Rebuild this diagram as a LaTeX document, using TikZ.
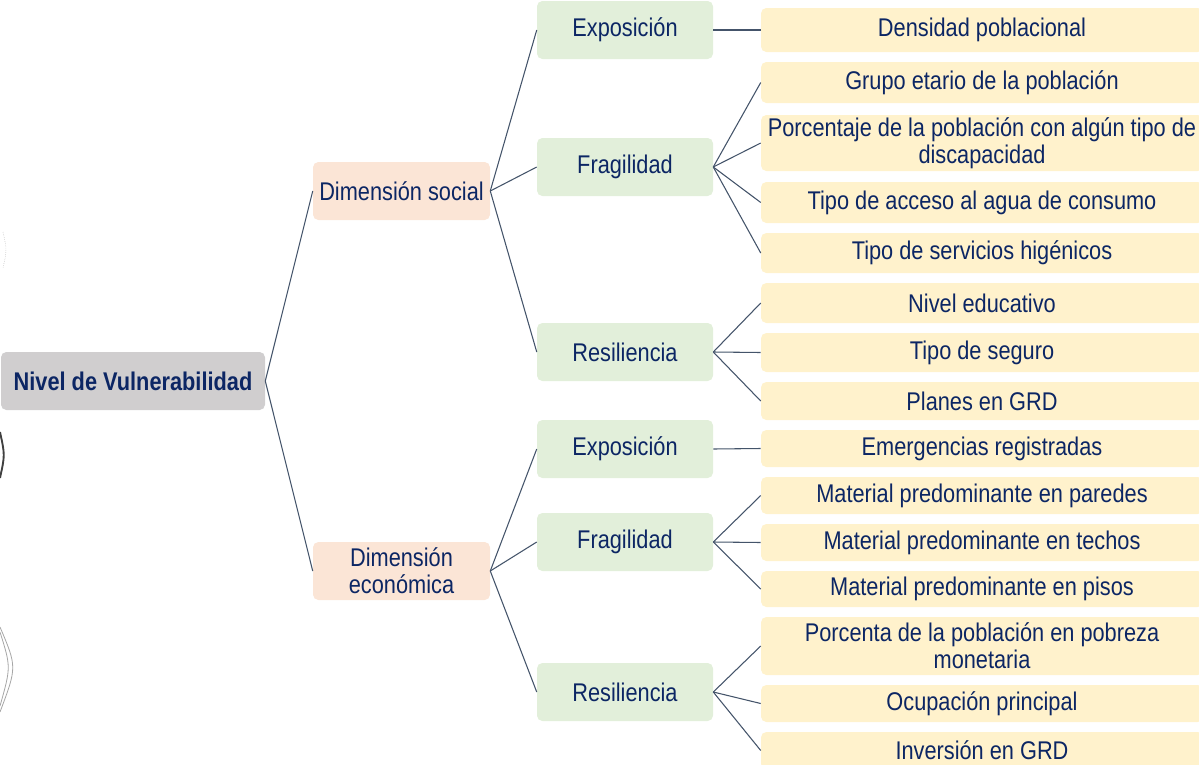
\documentclass[tikz,border=0pt]{standalone}
\usepackage{fontspec}
\setmainfont[FakeStretch=0.85]{Liberation Sans}
\definecolor{txtc}{RGB}{12,38,100}
\definecolor{linec}{RGB}{68,84,106}
\definecolor{rootc}{RGB}{208,206,207}
\definecolor{dimc}{RGB}{251,229,214}
\definecolor{subc}{RGB}{226,239,218}
\definecolor{leafc}{RGB}{255,242,204}
\begin{document}
\begin{tikzpicture}[x=0.75pt,y=-0.75pt,
  base/.style={rounded corners=4pt, inner sep=0pt, text=txtc, align=center,
    font=\fontsize{19.2}{20.3}\selectfont},
  rootbox/.style={base, fill=rootc, minimum width=198pt, minimum height=43.5pt, font=\fontsize{19.2}{20.3}\selectfont\bfseries},
  dimbox/.style={base, fill=dimc, minimum width=132.75pt, minimum height=43.5pt},
  subbox/.style={base, fill=subc, minimum width=132pt, minimum height=43.5pt},
  leafbox/.style={base, fill=leafc, minimum width=331.5pt},
  conn/.style={draw=linec, line width=0.8pt}]
\useasboundingbox (0,0) rectangle (1199,764);
% faint scan marks at the left edge
\draw[gray!60, densely dotted] (3,232) .. controls (7,250) .. (3,268);
\draw[black!75, line width=1.4pt] (0,432) .. controls (5,455) .. (0,478);
\draw[gray!70, line width=0.6pt] (0,627) .. controls (17,667) .. (0,712);
\draw[gray!70, line width=0.6pt] (0,632) .. controls (11,667) .. (0,706);

\node[rootbox] (root) at (133,381) {Nivel de Vulnerabilidad};
\node[dimbox] (ds) at (401.5,191) {Dimensión social};
\node[dimbox] (de) at (401.5,571) {Dimensión\\económica};

\node[subbox] (e1) at (625,30) {Exposición};
\node[subbox] (f1) at (625,167) {Fragilidad};
\node[subbox] (r1) at (625,352) {Resiliencia};
\node[subbox] (e2) at (625,449) {Exposición};
\node[subbox] (f2) at (625,542) {Fragilidad};
\node[subbox] (r2) at (625,692) {Resiliencia};

\node[leafbox, minimum height=33pt] (l1) at (982,30) {Densidad poblacional};
\node[leafbox, minimum height=30.75pt] (l2) at (982,82.5) {Grupo etario de la población};
\node[leafbox, minimum height=42pt] (l3) at (982,143) {Porcentaje de la población con algún tipo de\\discapacidad};
\node[leafbox, minimum height=30.75pt] (l4) at (982,202.5) {Tipo de acceso al agua de consumo};
\node[leafbox, minimum height=30pt] (l5) at (982,253) {Tipo de servicios higénicos};
\node[leafbox, minimum height=30pt] (l6) at (982,303) {Nivel educativo};
\node[leafbox, minimum height=29.25pt] (l7) at (982,352.5) {Tipo de seguro};
\node[leafbox, minimum height=28.5pt] (l8) at (982,401) {Planes en GRD};
\node[leafbox, minimum height=27.75pt] (l9) at (982,448.5) {Emergencias registradas};
\node[leafbox, minimum height=27.75pt] (l10) at (982,495.5) {Material predominante en paredes};
\node[leafbox, minimum height=27.75pt] (l11) at (982,542.5) {Material predominante en techos};
\node[leafbox, minimum height=27pt] (l12) at (982,589) {Material predominante en pisos};
\node[leafbox, minimum height=43.5pt] (l13) at (982,646) {Porcenta de la población en pobreza\\monetaria};
\node[leafbox, minimum height=27.75pt] (l14) at (982,703.5) {Ocupación principal};
\node[leafbox, minimum height=27.75pt] (l15) at (982,750.5) {Inversión en GRD};

\foreach \a/\b in {root/ds, root/de, ds/e1, ds/f1, ds/r1, de/e2, de/f2, de/r2,
  e1/l1, f1/l2, f1/l3, f1/l4, f1/l5, r1/l6, r1/l7, r1/l8,
  e2/l9, f2/l10, f2/l11, f2/l12, r2/l13, r2/l14, r2/l15}
  \draw[conn] (\a.east) -- (\b.west);
\end{tikzpicture}
\end{document}
